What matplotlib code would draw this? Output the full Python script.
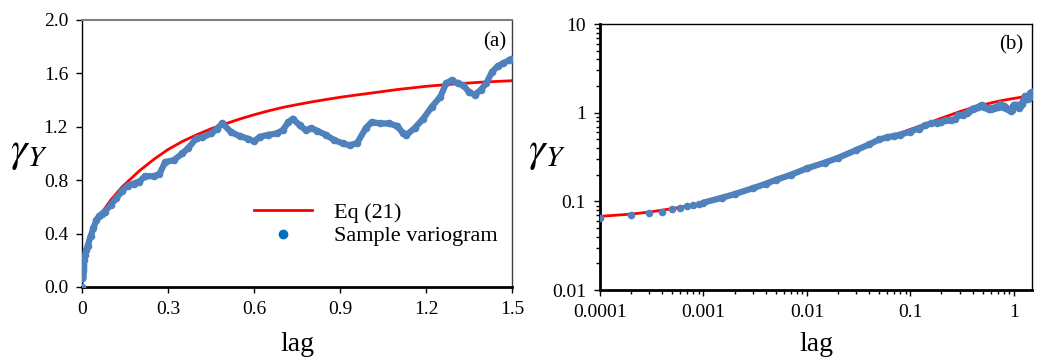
import numpy as np
import matplotlib.pyplot as plt
from matplotlib.lines import Line2D
from matplotlib.ticker import FixedLocator, FuncFormatter, LogLocator, NullFormatter

plt.rcParams['font.family'] = ['Liberation Serif', 'DejaVu Serif']
plt.rcParams['mathtext.fontset'] = 'stix'

# --- data ---
# Eq (21) model curve
lag_eq = [0.0, 0.0001, 0.0002, 0.0003, 0.0005, 0.0007, 0.001, 0.002, 0.003, 0.005,
          0.007, 0.01, 0.015, 0.02, 0.03, 0.04, 0.05, 0.07, 0.1, 0.12, 0.14, 0.17,
          0.2, 0.25, 0.3, 0.35, 0.4, 0.45, 0.5, 0.55, 0.6, 0.65, 0.7, 0.75, 0.8,
          0.85, 0.9, 0.95, 1.0, 1.1, 1.2, 1.3, 1.4, 1.5]
gam_eq = [0.0, 0.068, 0.072, 0.076, 0.083, 0.089, 0.096, 0.12, 0.138, 0.168,
          0.195, 0.235, 0.28, 0.32, 0.385, 0.44, 0.485, 0.56, 0.65, 0.70, 0.75, 0.81,
          0.87, 0.955, 1.03, 1.09, 1.14, 1.185, 1.222, 1.258, 1.29, 1.319, 1.345, 1.366, 1.386,
          1.404, 1.421, 1.436, 1.45, 1.479, 1.503, 1.521, 1.535, 1.545]

# sample variogram
lag_s = [0.0, 0.0001, 0.0002, 0.0003, 0.0004, 0.0005, 0.0006, 0.0007, 0.0008, 0.0009,
         0.001, 0.0015, 0.002, 0.003, 0.004, 0.005, 0.007, 0.01, 0.015, 0.02, 0.03,
         0.04, 0.05, 0.06, 0.07, 0.08, 0.1, 0.12, 0.14, 0.16, 0.18, 0.2, 0.22, 0.25,
         0.27, 0.29, 0.32, 0.35, 0.37, 0.40, 0.42, 0.45, 0.47, 0.49, 0.52, 0.55,
         0.58, 0.60, 0.62, 0.65, 0.68, 0.70, 0.72, 0.735, 0.76, 0.78, 0.80, 0.82,
         0.85, 0.88, 0.91, 0.935, 0.96, 0.99, 1.01, 1.04, 1.07, 1.10, 1.12, 1.13,
         1.16, 1.19, 1.22, 1.25, 1.27, 1.29, 1.31, 1.33, 1.35, 1.37, 1.39, 1.41,
         1.43, 1.45, 1.47, 1.49, 1.50]
gam_s = [0.0, 0.065, 0.071, 0.075, 0.077, 0.083, 0.085, 0.089, 0.091, 0.094,
         0.097, 0.11, 0.121, 0.141, 0.158, 0.175, 0.2, 0.236, 0.275, 0.31, 0.38,
         0.44, 0.5, 0.53, 0.55, 0.565, 0.615, 0.665, 0.72, 0.76, 0.775, 0.79, 0.83, 0.83,
         0.845, 0.935, 0.95, 1.0, 1.04, 1.115, 1.12, 1.15, 1.185, 1.225, 1.16, 1.13,
         1.11, 1.09, 1.125, 1.14, 1.15, 1.175, 1.235, 1.26, 1.21, 1.175, 1.19, 1.17,
         1.14, 1.10, 1.075, 1.06, 1.08, 1.19, 1.235, 1.225, 1.225, 1.205, 1.15, 1.135,
         1.19, 1.26, 1.35, 1.425, 1.525, 1.55, 1.525, 1.51, 1.46, 1.44, 1.475, 1.525,
         1.61, 1.655, 1.675, 1.70, 1.71]

lin_xticks = [0, 0.3, 0.6, 0.9, 1.2, 1.5]
lin_xlabels = ['0', '0.3', '0.6', '0.9', '1.2', '1.5']
lin_yticks = [0.0, 0.4, 0.8, 1.2, 1.6, 2.0]
log_xticks = [0.0001, 0.001, 0.01, 0.1, 1]
log_yticks = [0.01, 0.1, 1, 10]

blue = '#4F81BD'
red = '#FF0000'

fig = plt.figure(figsize=(10.38, 3.6), dpi=100)
ax1 = fig.add_axes([0.079, 0.2028, 0.4143, 0.7417])
ax2 = fig.add_axes([0.578, 0.194, 0.4162, 0.739])

lag_s = np.array(lag_s)
gam_s = np.array(gam_s)

# --- panel (a): linear ---
ax1.plot(lag_eq, gam_eq, color=red, lw=2, zorder=2)
ax1.plot(lag_s[1:], gam_s[1:], color=blue, lw=4.5, solid_capstyle='round',
         solid_joinstyle='round', zorder=3)
ax1.plot(lag_s, gam_s, 'o', color=blue, ms=4.5, zorder=3)
ax1.set_xlim(0, 1.5)
ax1.set_ylim(0, 2.0)
ax1.xaxis.set_major_locator(FixedLocator(lin_xticks))
ax1.set_xticklabels(lin_xlabels)
ax1.yaxis.set_major_locator(FixedLocator(lin_yticks))
ax1.yaxis.set_major_formatter(FuncFormatter(lambda v, p: f'{v:.1f}'))
ax1.spines['left'].set_linewidth(1.0)
ax1.spines['bottom'].set_linewidth(2.0)
ax1.spines['top'].set_color('#808080')
ax1.spines['top'].set_linewidth(1.5)
ax1.spines['right'].set_color('#404040')
ax1.spines['right'].set_linewidth(1.0)
ax1.tick_params(direction='out', length=4, width=1, labelsize=14, pad=6)
ax1.set_xlabel('lag', fontsize=20, labelpad=10)
ax1.text(0.986, 0.955, '(a)', transform=ax1.transAxes, ha='right', va='top', fontsize=15)
fig.text(0.028, 0.575, r'$\gamma_{Y}$', fontsize=30, ha='center', va='center')

h_eq = Line2D([], [], color=red, lw=2)
h_s = Line2D([], [], marker='o', color='#0070C0', ls='none', ms=6)
ax1.legend([h_eq, h_s], ['Eq (21)', 'Sample variogram'], loc='center left',
           bbox_to_anchor=(0.40, 0.235), frameon=False, fontsize=16,
           handlelength=2.6, handletextpad=1.0, labelspacing=0.15,
           borderpad=0, borderaxespad=0)

# --- panel (b): log-log ---
pos = lag_s > 0
dense = lag_s >= 0.001
ax2.plot(lag_eq[1:], gam_eq[1:], color=red, lw=2, zorder=2)
ax2.plot(lag_s[dense], gam_s[dense], color=blue, lw=4.5, solid_capstyle='round',
         solid_joinstyle='round', zorder=3)
ax2.plot(lag_s[pos], gam_s[pos], 'o', color=blue, ms=4.5, zorder=3)
ax2.set_xscale('log')
ax2.set_yscale('log')
ax2.set_xlim(0.0001, 1.5)
ax2.set_ylim(0.01, 10)
ax2.xaxis.set_major_locator(FixedLocator(log_xticks))
ax2.set_xticklabels(['0.0001', '0.001', '0.01', '0.1', '1'])
ax2.yaxis.set_major_locator(FixedLocator(log_yticks))
ax2.set_yticklabels(['0.01', '0.1', '1', '10'])
ax2.xaxis.set_minor_locator(LogLocator(base=10, subs=np.arange(2, 10), numticks=20))
ax2.yaxis.set_minor_locator(LogLocator(base=10, subs=np.arange(2, 10), numticks=20))
ax2.xaxis.set_minor_formatter(NullFormatter())
ax2.yaxis.set_minor_formatter(NullFormatter())
ax2.spines['left'].set_linewidth(2.0)
ax2.spines['bottom'].set_linewidth(2.0)
ax2.spines['top'].set_linewidth(1.0)
ax2.spines['right'].set_linewidth(1.0)
ax2.tick_params(which='major', direction='out', length=4, width=1, labelsize=14, pad=6)
ax2.tick_params(which='minor', direction='out', length=3, width=1)
ax2.set_xlabel('lag', fontsize=20, labelpad=8)
ax2.text(0.979, 0.959, '(b)', transform=ax2.transAxes, ha='right', va='top', fontsize=15)
fig.text(0.527, 0.575, r'$\gamma_{Y}$', fontsize=30, ha='center', va='center')

plt.savefig('out.png', dpi=100)
